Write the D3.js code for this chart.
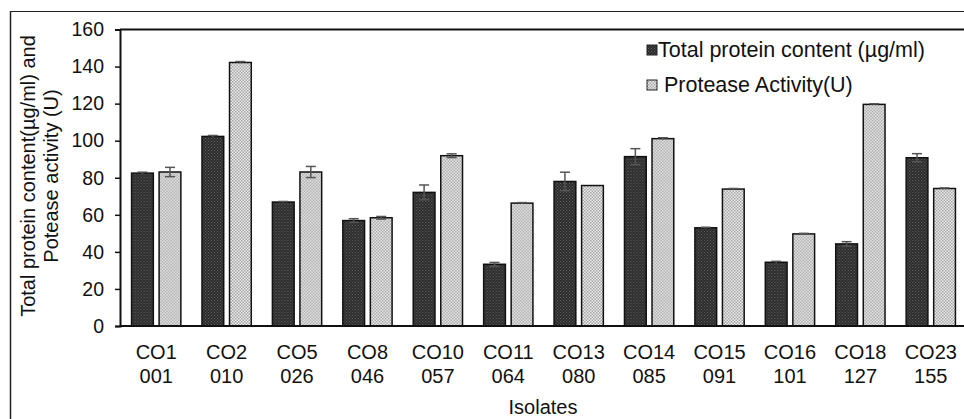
<!DOCTYPE html>
<html><head><meta charset="utf-8">
<script src="https://cdn.jsdelivr.net/npm/d3@7"></script>
<style>
html,body{margin:0;padding:0;background:#fff;}
svg{display:block;font-family:"Liberation Sans",Arial,Helvetica,sans-serif;}
</style></head>
<body>
<svg id="chart" width="964" height="419"></svg>
<script>
const isolatesLine1 = ["CO1","CO2","CO5","CO8","CO10","CO11","CO13","CO14","CO15","CO16","CO18","CO23"];
const isolatesLine2 = ["001","010","026","046","057","064","080","085","091","101","127","155"];
const totalProtein = [82.5, 102.3, 66.9, 56.9, 72.1, 33.3, 78.0, 91.4, 53.0, 34.4, 44.3, 90.8];
const totalProteinErr = [0.5, 0.5, 0.3, 1.0, 4.0, 1.0, 5.0, 4.3, 0.3, 0.5, 1.2, 2.2];
const proteaseActivity = [83.1, 142.2, 83.1, 58.4, 91.9, 66.3, 75.8, 101.1, 73.9, 49.7, 119.6, 74.2];
const proteaseErr = [2.5, 0.5, 3.0, 0.7, 1.0, 0.3, 0, 0.5, 0.3, 0.3, 0.3, 0.3];
const yTicks = [0,20,40,60,80,100,120,140,160];
const seriesNames = ["Total protein content (µg/ml)", " Protease Activity(U)"];
const seriesKeys = ["tp","pa"];

const svg = d3.select("#chart");
const defs = svg.append("defs");
const pd = defs.append("pattern").attr("id","darkPat").attr("patternUnits","userSpaceOnUse").attr("width",3).attr("height",3);
pd.append("rect").attr("width",3).attr("height",3).attr("fill","#2a2a2a");
pd.append("rect").attr("x",0).attr("y",0).attr("width",1).attr("height",1).attr("fill","#666");
pd.append("rect").attr("x",1.5).attr("y",1.5).attr("width",1).attr("height",1).attr("fill","#666");
const pl = defs.append("pattern").attr("id","lightPat").attr("patternUnits","userSpaceOnUse").attr("width",3).attr("height",3);
pl.append("rect").attr("width",3).attr("height",3).attr("fill","#f2f2f2");
pl.append("rect").attr("x",0).attr("y",0).attr("width",1.5).attr("height",1.5).attr("fill","#a0a0a0");
pl.append("rect").attr("x",1.5).attr("y",1.5).attr("width",1.5).attr("height",1.5).attr("fill","#a0a0a0");
const fills = {tp:"url(#darkPat)", pa:"url(#lightPat)"};

svg.append("line").attr("x1",10.5).attr("x2",10.5).attr("y1",11).attr("y2",419).attr("stroke","#222").attr("stroke-width",1.5);
svg.append("line").attr("x1",10).attr("x2",964).attr("y1",11.5).attr("y2",11.5).attr("stroke","#222").attr("stroke-width",1.2);

const x0 = d3.scaleBand().domain(isolatesLine1).range([121, 966]).paddingInner(0.3).paddingOuter(0.15);
const x1 = d3.scaleBand().domain(seriesKeys).range([0, x0.bandwidth()]).paddingInner(0.21);
const y = d3.scaleLinear().domain([0,160]).range([326, 29.5]);

const data = isolatesLine1.map((c,i)=>({c, i, tp: totalProtein[i], tpE: totalProteinErr[i], pa: proteaseActivity[i], paE: proteaseErr[i]}));

svg.append("line").attr("x1",120).attr("x2",964).attr("y1",y(160)).attr("y2",y(160)).attr("stroke","#111").attr("stroke-width",2);

const groups = svg.append("g").selectAll("g").data(data).join("g")
  .attr("transform", d=>`translate(${x0(d.c)},0)`);

seriesKeys.forEach(k=>{
  groups.append("rect")
    .attr("x", x1(k)).attr("width", x1.bandwidth())
    .attr("y", d=>y(d[k])).attr("height", d=>y(0)-y(d[k]))
    .attr("fill", fills[k]).attr("stroke","#111").attr("stroke-width",1.5);
  const cx = x1(k)+x1.bandwidth()/2;
  groups.filter(d=>d[k+"E"]>0).append("line")
    .attr("x1",cx).attr("x2",cx)
    .attr("y1",d=>y(d[k]-d[k+"E"])).attr("y2",d=>y(d[k]+d[k+"E"]))
    .attr("stroke","#555").attr("stroke-width",1.5);
  groups.filter(d=>d[k+"E"]>0).append("line")
    .attr("x1",cx-5).attr("x2",cx+5)
    .attr("y1",d=>y(d[k]+d[k+"E"])).attr("y2",d=>y(d[k]+d[k+"E"]))
    .attr("stroke","#555").attr("stroke-width",1.5);
  groups.filter(d=>d[k+"E"]>0.6).append("line")
    .attr("x1",cx-5).attr("x2",cx+5)
    .attr("y1",d=>y(d[k]-d[k+"E"])).attr("y2",d=>y(d[k]-d[k+"E"]))
    .attr("stroke","#555").attr("stroke-width",1.5);
});

const yAxis = d3.axisLeft(y).tickValues(yTicks).tickSize(5).tickPadding(11);
const ga = svg.append("g").attr("transform","translate(120,0)").call(yAxis);
ga.select(".domain").attr("stroke","#111").attr("stroke-width",2);
ga.selectAll(".tick line").attr("stroke","#111").attr("stroke-width",1.5);
ga.selectAll(".tick text").attr("font-size",19.5).attr("fill","#111").attr("font-family","Liberation Sans, Arial, sans-serif");

const gx = svg.append("g").attr("transform",`translate(0,${y(0)})`).call(d3.axisBottom(x0).tickSize(0).tickFormat(""));
gx.select(".domain").attr("d","M120,0H964").attr("stroke","#111").attr("stroke-width",2);
gx.selectAll(".tick").each(function(d,i){
  const t = d3.select(this).select("text").attr("font-size",20).attr("fill","#111")
    .attr("font-family","Liberation Sans, Arial, sans-serif").attr("y",0).attr("dy",null);
  t.append("tspan").attr("x",0).attr("y",33).text(isolatesLine1[i]);
  t.append("tspan").attr("x",0).attr("y",57).text(isolatesLine2[i]);
});

svg.append("text").attr("x",543).attr("y",414).attr("text-anchor","middle").attr("font-size",20).attr("fill","#111").text("Isolates");
const yt = svg.append("text").attr("transform","translate(0,176) rotate(-90)").attr("text-anchor","middle").attr("font-size",20).attr("fill","#111");
yt.append("tspan").attr("x",0).attr("y",35).text("Total protein content(µg/ml)  and");
yt.append("tspan").attr("x",0).attr("y",58).text("Potease activity (U)");

const leg = svg.append("g");
const legY = [45, 80];
seriesKeys.forEach((k,i)=>{
  leg.append("rect").attr("x",647).attr("y",legY[i]).attr("width",10).attr("height",10)
    .attr("fill",fills[k]).attr("stroke","#222").attr("stroke-width",1);
  leg.append("text").attr("x",658).attr("y",legY[i]+12).attr("font-size",21.5).attr("fill","#111")
    .attr("xml:space","preserve").style("white-space","pre").text(seriesNames[i]);
});
</script>
</body></html>
